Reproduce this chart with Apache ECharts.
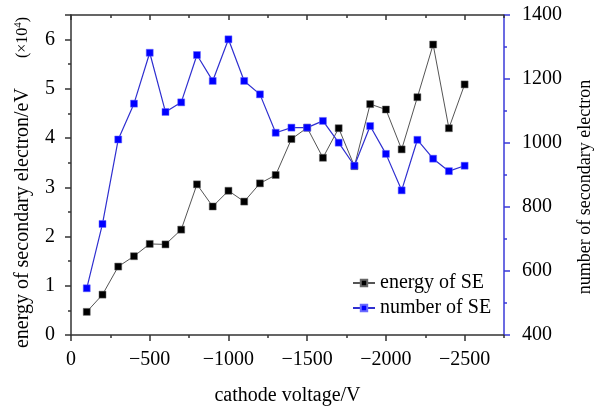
<!DOCTYPE html>
<html>
<head>
<meta charset="utf-8">
<script src="https://cdn.jsdelivr.net/npm/echarts@6/dist/echarts.min.js"></script>
<style>html,body{margin:0;padding:0;background:#fff}#c{width:604px;height:407px}</style>
</head>
<body>
<div id="c"></div>
<script>
// cathode voltage (V)
const voltage = [-100,-200,-300,-400,-500,-600,-700,-800,-900,-1000,-1100,-1200,-1300,-1400,-1500,-1600,-1700,-1800,-1900,-2000,-2100,-2200,-2300,-2400,-2500];
// energy of SE (x10^4 eV)
const energySE = [0.47,0.82,1.39,1.60,1.85,1.84,2.14,3.06,2.61,2.93,2.71,3.08,3.25,3.98,4.21,3.60,4.20,3.43,4.69,4.58,3.77,4.83,5.90,4.20,5.09];
// number of SE
const numberSE = [546,747,1011,1123,1282,1097,1127,1275,1194,1324,1194,1152,1032,1048,1048,1069,1001,929,1053,966,852,1010,951,912,929];
// x tick labels
const xMajorTicks = [0,-500,-1000,-1500,-2000,-2500];
const xMinorTicks = [-250,-750,-1250,-1750,-2250,-2750];

const FONT = '"Liberation Serif", "Times New Roman", serif';
const AX = '#333';
const BLUE_AX = '#3a3ad8';

const chart = echarts.init(document.getElementById('c'), null, {renderer:'canvas'});

const xBase = {type:'value', min:-2750, max:0, inverse:true, splitLine:{show:false}};
function pair(a,b){return a.map((v,i)=>[v,b[i]]);}

chart.setOption({
  animation:false,
  backgroundColor:'#fff',
  grid:{left:71, right:100, top:15, bottom:72, containLabel:false, outerBoundsMode:'none'},
  legend:{
    left:347, top:268, orient:'vertical', itemWidth:22, itemHeight:8, itemGap:5,
    textStyle:{fontFamily:FONT, fontSize:20, color:'#000'},
    data:['energy of SE','number of SE']
  },
  xAxis:[
    Object.assign({}, xBase, {
      position:'bottom',
      axisLine:{show:true, onZero:false, lineStyle:{color:AX, width:1.5}},
      axisTick:{show:true, inside:false, length:6, customValues:xMajorTicks, lineStyle:{color:AX, width:1.5}},
      axisLabel:{customValues:xMajorTicks, fontFamily:FONT, fontSize:20, color:'#000', margin:15,
        formatter:v=>String(v).replace('-', '\u2212')},
      name:'cathode voltage/V', nameLocation:'middle', nameGap:51,
      nameTextStyle:{fontFamily:FONT, fontSize:20, color:'#000'}
    }),
    Object.assign({}, xBase, {
      position:'bottom',
      axisLine:{show:false, onZero:false},
      axisTick:{show:true, inside:false, length:3, customValues:xMinorTicks, lineStyle:{color:AX, width:1.5}},
      axisLabel:{show:false}
    }),
    Object.assign({}, xBase, {
      position:'top',
      axisLine:{show:true, onZero:false, lineStyle:{color:AX, width:1.5}},
      axisTick:{show:true, inside:true, length:5, customValues:xMajorTicks, lineStyle:{color:AX, width:1.5}},
      axisLabel:{show:false}
    }),
    Object.assign({}, xBase, {
      position:'top',
      axisLine:{show:false, onZero:false},
      axisTick:{show:true, inside:true, length:3, customValues:xMinorTicks, lineStyle:{color:AX, width:1.5}},
      axisLabel:{show:false}
    })
  ],
  yAxis:[
    {
      type:'value', position:'left', min:0, max:6.5, interval:1,
      splitLine:{show:false},
      axisLine:{show:true, onZero:false, lineStyle:{color:AX, width:1.5}},
      axisTick:{show:true, inside:false, length:6, lineStyle:{color:AX, width:1.5}},
      minorTick:{show:true, splitNumber:2, length:3, lineStyle:{color:AX, width:1.5}},
      axisLabel:{fontFamily:FONT, fontSize:20, color:'#000', margin:16, showMaxLabel:false},
      name:'{m|energy of secondary electron/eV}{g|}{s|(\u00d710}{sup|4}{s|)}{e|}',
      nameLocation:'middle', nameGap:38, nameRotate:90,
      nameTextStyle:{fontFamily:FONT, fontSize:20, color:'#000',
        rich:{
          m:{fontFamily:FONT, fontSize:20, color:'#000'},
          g:{width:30},
          e:{width:15},
          s:{fontFamily:FONT, fontSize:16, color:'#000'},
          sup:{fontFamily:FONT, fontSize:11, color:'#000', verticalAlign:'top', padding:[0,0,8,0]}
        }}
    },
    {
      type:'value', position:'right', min:400, max:1400, interval:200,
      splitLine:{show:false},
      axisLine:{show:true, onZero:false, lineStyle:{color:BLUE_AX, width:1.5}},
      axisTick:{show:true, inside:false, length:6, lineStyle:{color:BLUE_AX, width:1.5}},
      minorTick:{show:true, splitNumber:2, length:3, lineStyle:{color:BLUE_AX, width:1.5}},
      axisLabel:{fontFamily:FONT, fontSize:20, color:'#000', margin:18, formatter:v=>String(v)},
      name:'{t|number of secondary electron}{e|}',
      nameLocation:'middle', nameGap:72, nameRotate:90,
      nameTextStyle:{fontFamily:FONT, fontSize:18, color:'#000',
        rich:{t:{fontFamily:FONT, fontSize:18, color:'#000'}, e:{width:24}}}
    }
  ],
  series:[
    {
      name:'energy of SE', type:'line', xAxisIndex:0, yAxisIndex:0,
      data:pair(voltage, energySE),
      symbol:'rect', symbolSize:7,
      lineStyle:{color:'#555', width:1},
      itemStyle:{color:'#000', borderColor:'#666', borderWidth:0.5},
      z:3
    },
    {
      name:'number of SE', type:'line', xAxisIndex:0, yAxisIndex:1,
      data:pair(voltage, numberSE),
      symbol:'rect', symbolSize:7,
      lineStyle:{color:'#2f2fd0', width:1.2},
      itemStyle:{color:'#0000ff', borderColor:'#6a6aff', borderWidth:0.5},
      z:4
    }
  ]
});
</script>
</body>
</html>
